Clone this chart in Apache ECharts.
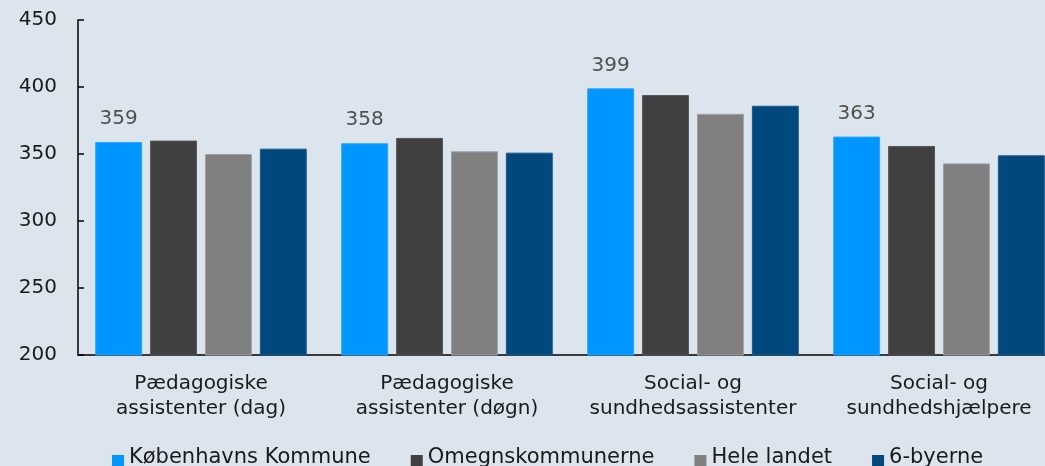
<!DOCTYPE html>
<html>
<head>
<meta charset="utf-8">
<script src="https://cdn.jsdelivr.net/npm/echarts@6/dist/echarts.min.js"></script>
<style>
  html, body { margin: 0; padding: 0; background: #dce5ee; }
  #chart { width: 1045px; height: 466px; }
</style>
</head>
<body>
<div id="chart"></div>
<script>
// Categories (job groups) and series values
const categories = [
  'Pædagogiske\nassistenter (dag)',
  'Pædagogiske\nassistenter (døgn)',
  'Social- og\nsundhedsassistenter',
  'Social- og\nsundhedshjælpere'
];
const seriesNames = ['Københavns Kommune', 'Omegnskommunerne', 'Hele landet', '6-byerne'];
const kobenhavn = [359, 358, 399, 363];
const omegn = [360, 362, 394, 356];
const heleLandet = [350, 352, 380, 343];
const seksByerne = [354, 351, 386, 349];
const yTicks = [200, 250, 300, 350, 400, 450];

const colors = ['#0096ff', '#404040', '#808080', '#00487e'];
const borders = ['#2aa4ff', '#555555', '#a0a0a0', '#1a5a8c'];
const FONT = 'DejaVu Sans';
const values = [kobenhavn, omegn, heleLandet, seksByerne];

// legend square sitting low, on the text baseline
const LEGEND_ICON = 'path://M0,0M0,6L12,6L12,18L0,18Z';

const chart = echarts.init(document.getElementById('chart'), null, { renderer: 'canvas' });

chart.setOption({
  backgroundColor: '#dce5ee',
  animation: false,
  textStyle: { fontFamily: FONT },
  // plot area runs past the right edge of the canvas, clipping the last group
  grid: { left: 78, width: 984, top: 20, bottom: 111, containLabel: false, outerBoundsMode: 'none' },
  legend: {
    left: 107,
    top: 442,
    itemWidth: 12,
    itemHeight: 18,
    itemGap: 40,
    icon: LEGEND_ICON,
    itemStyle: { borderWidth: 0 },
    textStyle: { fontFamily: FONT, fontSize: 21, lineHeight: 22, color: '#1a1a1a' },
    data: seriesNames
  },
  xAxis: {
    type: 'category',
    data: categories,
    axisLine: { lineStyle: { color: '#000', width: 1.5 } },
    axisTick: { show: false },
    axisLabel: {
      fontFamily: FONT, fontSize: 20, color: '#1a1a1a',
      lineHeight: 25, margin: 16, interval: 0
    }
  },
  yAxis: {
    type: 'value',
    min: yTicks[0],
    max: yTicks[yTicks.length - 1],
    interval: 50,
    splitLine: { show: false },
    axisLine: { show: true, lineStyle: { color: '#000', width: 1.5 } },
    axisTick: { show: true, inside: true, length: 6, lineStyle: { color: '#000', width: 1.5 } },
    axisLabel: { fontFamily: FONT, fontSize: 20, color: '#1a1a1a', margin: 21 }
  },
  series: seriesNames.map((name, i) => ({
    name,
    type: 'bar',
    data: values[i],
    barGap: '17%',
    barCategoryGap: '14%',
    itemStyle: { color: colors[i], borderColor: borders[i], borderWidth: 1 },
    label: i === 0 ? {
      show: true, position: 'top', distance: 13,
      fontFamily: FONT, fontSize: 20, color: '#505050'
    } : { show: false }
  }))
});
</script>
</body>
</html>
